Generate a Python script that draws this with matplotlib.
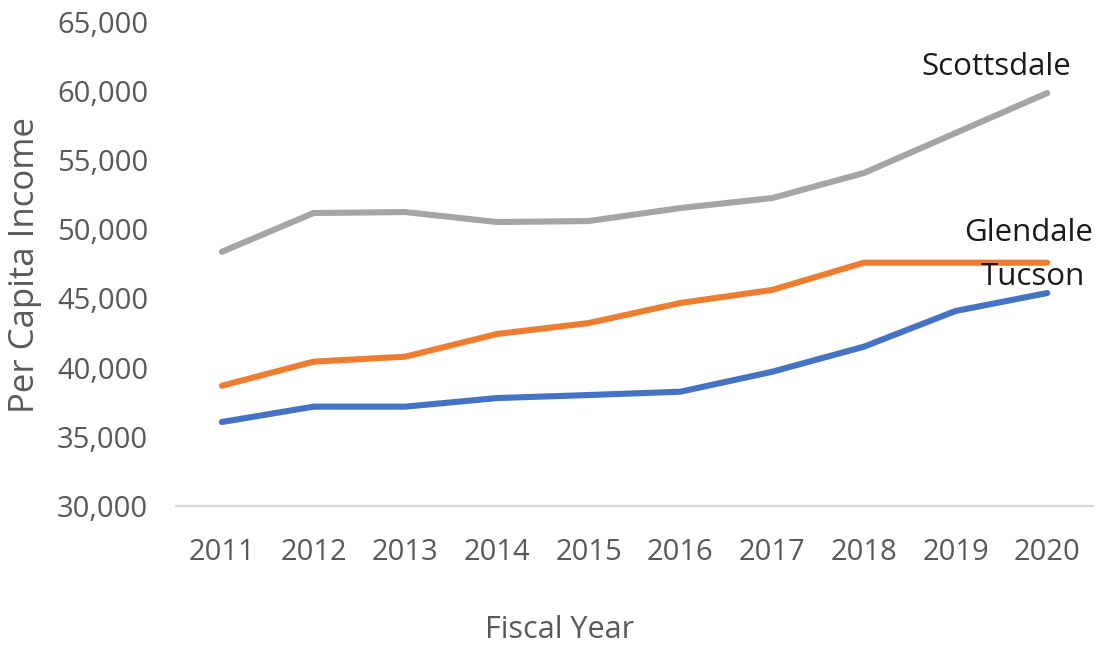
import matplotlib.pyplot as plt
from matplotlib.ticker import FuncFormatter

years = [2011, 2012, 2013, 2014, 2015, 2016, 2017, 2018, 2019, 2020]
scottsdale = [48370, 51170, 51240, 50520, 50590, 51530, 52250, 54060, 56950, 59840]
glendale = [38690, 40430, 40790, 42430, 43220, 44670, 45610, 47580, 47580, 47580]
tucson = [36070, 37180, 37180, 37800, 38020, 38260, 39700, 41510, 44090, 45390]

series = [
    ("Scottsdale", scottsdale, "#a5a5a5", (2019.45, 61720)),
    ("Glendale", glendale, "#ed7d31", (2019.8, 49725)),
    ("Tucson", tucson, "#4472c4", (2019.84, 46550)),
]

plt.rcParams["font.family"] = ["Open Sans", "DejaVu Sans"]

fig = plt.figure(figsize=(11.03, 6.49), dpi=100)
ax = fig.add_axes([0.1596, 0.2203, 0.8314, 0.7464])

for name, values, color, label_pos in series:
    ax.plot(years, values, color=color, linewidth=4.4, solid_capstyle="round")
    ax.text(label_pos[0], label_pos[1], name, fontsize=22.5, color="#1a1a1a",
            ha="center", va="center")

ax.set_xlim(2010.5, 2020.5)
ax.set_ylim(30000, 65000)
ax.set_xticks(years)
ax.set_yticks(range(30000, 65001, 5000))
ax.yaxis.set_major_formatter(FuncFormatter(lambda v, p: f"{int(v):,}"))

for side in ["top", "right", "left"]:
    ax.spines[side].set_visible(False)
ax.spines["bottom"].set_color("#d9d9d9")
ax.spines["bottom"].set_linewidth(1.5)

ax.tick_params(axis="both", length=0, labelsize=21, labelcolor="#595959")
ax.tick_params(axis="y", pad=20)
ax.tick_params(axis="x", pad=23)

fig.text(560 / 1103, 1 - 630 / 649, "Fiscal Year", fontsize=22, color="#595959",
         ha="center", va="center")
fig.text(25 / 1103, 1 - 265 / 649, "Per Capita Income", fontsize=25, color="#595959",
         ha="center", va="center", rotation=90)

fig.savefig("out.png", dpi=100)
